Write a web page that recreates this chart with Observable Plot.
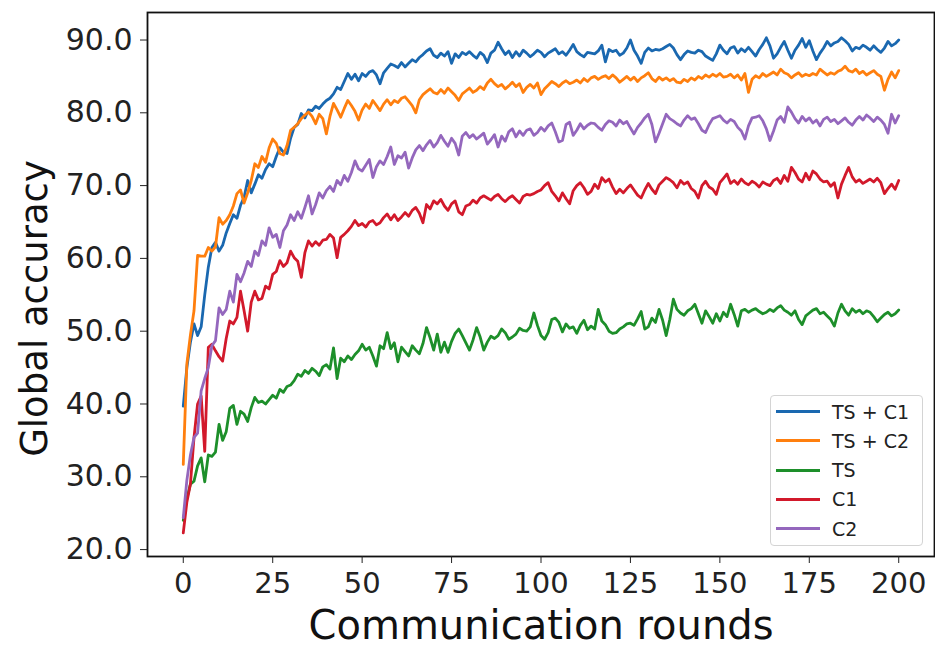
<!DOCTYPE html>
<html>
<head>
<meta charset="utf-8">
<script src="https://cdn.jsdelivr.net/npm/d3@7"></script>
<script src="https://cdn.jsdelivr.net/npm/@observablehq/plot@0.6"></script>
<style>
  html, body { margin: 0; padding: 0; background: #fff; }
  #wrap { position: relative; width: 935px; height: 648px; font-family: "DejaVu Sans", sans-serif; }
  #legend { position: absolute; left: 770px; top: 395px; width: 153px; height: 151px;
            border: 1px solid #d4d4d4; border-radius: 4px; background: rgba(255,255,255,0.85); box-sizing: border-box; }
  .row { position: absolute; left: 0; height: 24px; display: flex; align-items: center; }
  .sw { width: 44px; height: 3px; margin-left: 5px; margin-right: 12px; }
  .lab { font-size: 19px; color: #222; white-space: nowrap; }
</style>
</head>
<body>
<div id="wrap"></div>
<script>
const seriesNames = ["TS + C1", "TS + C2", "TS", "C1", "C2"];
const colors = ["#1a68b0", "#ff7f0e", "#1d8f2a", "#d2192b", "#9467bd"];
const xTicks = [0, 25, 50, 75, 100, 125, 150, 175, 200];
const yTicks = [20, 30, 40, 50, 60, 70, 80, 90];

const tsC1 = [
 39.7,45.0,48.5,51.0,49.4,50.6,55.0,58.8,61.5,62.2,
 61.0,61.8,63.5,64.8,66.0,65.5,67.3,68.4,70.7,69.0,
 70.2,71.5,71.0,72.2,73.0,72.6,74.0,75.2,74.6,74.4,
 76.5,78.0,78.4,79.9,79.3,80.4,80.3,80.9,80.6,81.2,
 81.7,82.0,82.6,83.5,83.2,84.3,85.4,84.6,85.3,84.4,
 85.4,85.0,85.6,85.8,85.2,84.0,85.5,86.1,86.7,86.5,
 86.2,86.9,86.3,86.8,87.3,87.0,87.6,88.0,88.5,88.8,
 87.9,87.6,88.2,87.8,88.4,86.8,88.1,87.6,88.3,88.0,
 88.4,87.9,87.5,88.3,87.9,86.9,88.2,88.6,89.7,88.8,
 88.0,88.5,87.6,88.4,87.8,88.6,88.2,87.7,88.1,88.6,
 88.3,87.7,88.2,88.5,88.8,88.1,88.4,87.9,88.6,89.4,
 88.4,88.0,87.7,88.3,88.2,88.1,88.5,89.3,87.0,88.7,
 88.4,88.6,87.9,88.2,88.9,90.0,88.6,87.8,86.8,88.3,
 88.9,88.5,88.7,88.6,88.8,89.1,89.4,88.9,88.0,87.3,
 88.0,88.5,88.3,88.2,88.6,88.4,87.8,87.5,87.2,88.1,
 89.3,88.6,88.1,88.9,89.1,88.2,88.8,88.4,89.0,88.4,
 87.8,88.7,89.4,90.3,89.2,87.5,88.1,89.0,89.8,88.6,
 87.5,88.6,89.3,90.2,89.0,89.9,88.5,87.3,88.2,88.9,
 89.8,89.2,89.6,89.8,90.3,89.9,89.4,88.5,89.0,88.8,
 89.3,89.0,88.6,89.2,88.7,88.3,88.9,89.8,89.2,89.5,
 90.0];

const tsC2 = [
 31.7,45.5,49.5,52.8,60.4,60.3,60.3,61.5,61.0,61.6,
 65.6,64.7,65.2,66.0,67.2,68.9,69.4,67.6,69.0,70.7,
 73.0,72.5,74.0,73.2,75.2,76.4,75.8,74.4,74.2,75.5,
 77.6,78.0,78.5,79.2,79.7,80.1,79.5,78.5,79.8,79.2,
 77.1,79.5,81.3,80.4,79.4,80.6,81.7,81.0,80.2,79.0,
 80.4,81.2,80.6,81.7,81.0,80.3,81.2,81.8,81.1,81.7,
 81.4,82.0,82.2,81.6,81.0,80.0,81.8,82.5,82.9,83.3,
 82.8,82.6,83.2,82.7,83.4,82.9,82.4,81.7,82.6,83.0,
 83.4,82.8,83.1,83.6,83.2,84.1,84.6,84.0,83.6,83.9,
 83.3,83.7,84.2,83.6,84.0,82.8,83.5,83.9,83.4,84.1,
 82.5,83.3,83.8,84.3,84.0,83.6,84.1,84.4,84.0,84.2,
 84.5,84.1,84.7,84.3,84.8,85.0,84.6,84.9,85.1,84.7,
 85.2,84.8,84.2,84.6,85.0,84.5,84.9,84.3,84.8,85.1,
 85.5,84.7,84.3,84.9,84.5,84.8,84.4,84.7,84.2,84.1,
 84.6,84.3,84.8,84.5,85.0,84.7,85.2,84.9,85.3,85.0,
 85.4,84.9,85.0,85.3,84.8,85.2,84.5,85.4,82.8,84.6,
 85.1,84.8,85.4,85.0,85.3,85.6,85.2,86.0,85.5,85.3,
 84.8,85.2,85.5,85.0,85.3,85.1,85.4,85.2,86.0,85.6,
 85.2,85.5,85.3,85.7,85.9,86.4,85.8,85.6,86.0,85.4,
 85.7,85.2,85.5,85.8,85.3,85.0,83.1,84.6,85.6,84.8,
 85.8];

const ts = [
 24.0,27.0,29.0,29.4,31.5,32.6,29.3,33.0,32.8,33.4,
 37.2,35.0,36.2,39.4,39.8,37.2,39.0,38.6,37.6,39.5,
 40.9,40.2,40.4,40.0,40.6,41.2,40.8,42.0,41.6,42.4,
 42.6,43.2,44.1,43.8,44.6,44.2,44.9,44.5,43.9,45.1,
 45.4,44.8,47.7,43.5,46.3,45.8,46.6,46.1,46.8,47.3,
 48.2,47.4,47.8,46.6,45.2,48.0,47.6,49.8,47.6,48.4,
 45.8,47.8,47.2,46.6,48.0,47.4,46.9,48.3,50.5,49.1,
 47.4,49.6,47.1,48.5,47.1,48.6,49.7,50.3,49.4,48.4,
 47.4,48.8,50.5,49.2,47.4,48.5,49.3,49.0,49.4,50.3,
 49.8,48.9,49.2,49.6,50.4,50.1,50.0,50.6,52.5,50.8,
 49.4,48.9,49.8,51.6,51.8,51.2,49.9,51.0,50.4,50.6,
 49.7,50.8,51.5,50.2,50.7,50.3,53.0,51.4,50.9,50.0,
 49.7,49.8,50.3,50.6,51.0,51.1,50.8,51.7,52.7,50.3,
 50.6,51.8,51.2,53.0,51.5,49.4,51.6,54.4,53.0,52.5,
 52.2,52.8,53.1,53.7,52.4,51.1,52.8,52.0,51.1,52.4,
 51.4,52.6,52.0,53.7,52.3,50.7,52.8,53.0,52.6,52.9,
 53.1,52.7,52.4,52.6,53.0,52.7,53.2,53.5,52.9,52.6,
 52.2,52.8,51.6,50.9,52.1,52.5,52.9,53.1,52.4,52.6,
 52.1,51.6,50.7,52.5,53.7,52.8,52.2,53.1,52.6,52.9,
 52.4,52.8,52.6,52.0,51.3,51.8,52.3,52.6,52.1,52.4,
 52.9];

const c1 = [
 22.3,26.5,29.0,35.4,40.0,41.1,33.5,47.8,48.2,47.3,
 46.5,45.9,49.0,51.4,51.0,51.9,55.5,52.8,50.0,54.0,
 55.5,54.3,54.5,56.2,55.8,57.8,58.2,59.7,58.9,59.4,
 61.0,60.1,59.6,57.4,60.8,62.4,61.7,62.3,61.8,62.5,
 62.6,63.3,62.8,60.1,62.9,63.3,63.8,64.4,65.2,64.5,
 64.8,64.3,65.0,65.2,64.6,64.9,65.6,66.1,65.3,66.0,
 65.2,65.7,66.3,65.8,66.6,67.0,66.2,64.9,67.4,66.8,
 67.9,67.5,68.1,67.2,66.6,67.5,67.9,66.4,66.0,67.2,
 67.4,68.0,67.6,68.3,68.6,68.3,68.0,68.5,68.8,68.2,
 67.8,68.3,68.6,68.1,67.6,68.5,68.8,68.7,68.9,69.2,
 69.4,70.0,70.4,69.2,68.6,67.9,69.0,68.2,67.5,69.3,
 70.0,70.4,69.7,68.8,69.2,70.2,69.6,71.1,70.5,70.9,
 69.8,68.9,69.5,69.0,69.6,70.1,69.4,68.7,68.3,69.4,
 70.3,69.5,68.9,70.1,70.6,71.1,70.8,70.4,69.7,70.7,
 70.2,70.5,69.6,69.2,68.3,70.0,70.6,69.8,69.5,68.8,
 70.4,71.0,71.6,70.3,70.7,70.2,70.9,70.4,70.1,70.6,
 70.3,69.8,70.5,70.2,70.0,70.7,71.0,70.3,71.4,70.6,
 72.5,71.8,70.9,70.5,71.7,70.8,72.0,71.6,70.9,70.5,
 70.6,69.9,70.4,68.3,70.2,71.4,72.5,71.2,70.5,70.8,
 70.3,70.6,70.9,70.5,71.0,70.4,68.9,69.6,70.2,69.5,
 70.7];

const c2 = [
 24.4,29.5,33.0,35.4,36.0,41.8,43.5,45.0,48.0,48.7,
 53.2,52.3,53.0,55.5,54.0,57.8,56.8,58.0,59.6,58.9,
 61.0,60.4,62.4,61.8,64.2,62.9,63.3,61.5,63.8,64.6,
 66.0,65.2,66.4,65.5,67.0,68.6,66.1,67.4,69.0,68.3,
 69.3,69.9,69.2,70.7,70.1,71.4,70.6,71.8,73.4,72.3,
 72.0,72.8,73.6,71.1,72.6,73.4,72.9,74.0,75.3,72.9,
 74.1,73.8,74.6,72.4,73.8,74.9,75.5,74.8,75.6,76.2,
 75.3,75.9,76.9,76.1,75.4,76.5,75.8,74.2,76.8,77.3,
 76.6,77.0,76.4,76.8,77.2,75.7,76.3,77.0,75.3,76.8,
 76.1,77.4,77.8,76.7,77.5,76.9,77.6,77.8,76.9,77.3,
 78.0,77.5,78.2,78.6,77.4,76.0,76.2,78.4,78.7,76.9,
 77.6,78.5,77.8,78.3,78.6,78.5,78.0,77.6,78.4,78.9,
 78.7,78.2,79.0,78.5,78.8,77.9,77.1,78.0,78.6,79.3,
 79.8,78.4,76.0,77.2,78.5,79.8,79.2,78.9,78.5,78.2,
 79.0,79.6,79.1,79.3,78.5,77.6,77.3,78.4,79.2,79.4,
 79.6,79.0,78.6,79.1,78.8,78.0,77.5,76.4,78.2,79.3,
 79.4,79.6,78.9,77.8,76.2,77.5,79.0,79.5,78.7,80.8,
 80.1,79.2,78.6,79.5,78.9,79.3,78.6,79.0,78.2,79.1,
 79.4,78.8,79.1,78.5,78.9,79.3,78.7,78.3,79.0,79.5,
 79.0,79.7,79.3,78.8,79.4,79.0,78.4,77.2,79.8,78.6,
 79.6];

const seriesValues = [tsC1, tsC2, ts, c1, c2];

const rows = seriesValues.flatMap((vals, i) =>
  vals.map((v, r) => ({round: r, acc: v, series: seriesNames[i]})));

const chart = Plot.plot({
  width: 935,
  height: 648,
  marginLeft: 147,
  marginRight: 1,
  marginTop: 12,
  marginBottom: 92,
  style: {fontFamily: "DejaVu Sans", background: "white", color: "#222"},
  x: {domain: [-10, 210], label: null},
  y: {domain: [19.05, 93.78], label: null},
  color: {domain: seriesNames, range: colors},
  marks: [
    Plot.line(rows, {x: "round", y: "acc", z: "series", stroke: "series",
      strokeWidth: 2.8, strokeLinejoin: "round", strokeLinecap: "round"}),
    Plot.frame({stroke: "#111", strokeWidth: 1.8}),
    Plot.axisX({ticks: xTicks, tickSize: 7, tickPadding: 9, fontSize: 29, label: null, stroke: "#222"}),
    Plot.axisY({ticks: yTicks, tickSize: 7, tickPadding: 8, fontSize: 30,
      tickFormat: d3.format(".1f"), label: null, stroke: "#222"}),
    Plot.text(["Communication rounds"], {frameAnchor: "bottom", dy: 70, fontSize: 40,
      lineAnchor: "middle", textAnchor: "middle", fill: "#111"}),
    Plot.text(["Global accuracy"], {frameAnchor: "left", dx: -112, dy: 24, rotate: -90,
      fontSize: 37, lineAnchor: "middle", textAnchor: "middle", fill: "#111"})
  ]
});

const wrap = document.getElementById("wrap");
wrap.appendChild(chart);

const legend = document.createElement("div");
legend.id = "legend";
seriesNames.forEach((name, i) => {
  const row = document.createElement("div");
  row.className = "row";
  row.style.top = (3.7 + i * 29.25) + "px";
  const sw = document.createElement("div");
  sw.className = "sw";
  sw.style.background = colors[i];
  const lab = document.createElement("span");
  lab.className = "lab";
  lab.textContent = name;
  row.appendChild(sw);
  row.appendChild(lab);
  legend.appendChild(row);
});
wrap.appendChild(legend);
</script>
</body>
</html>
